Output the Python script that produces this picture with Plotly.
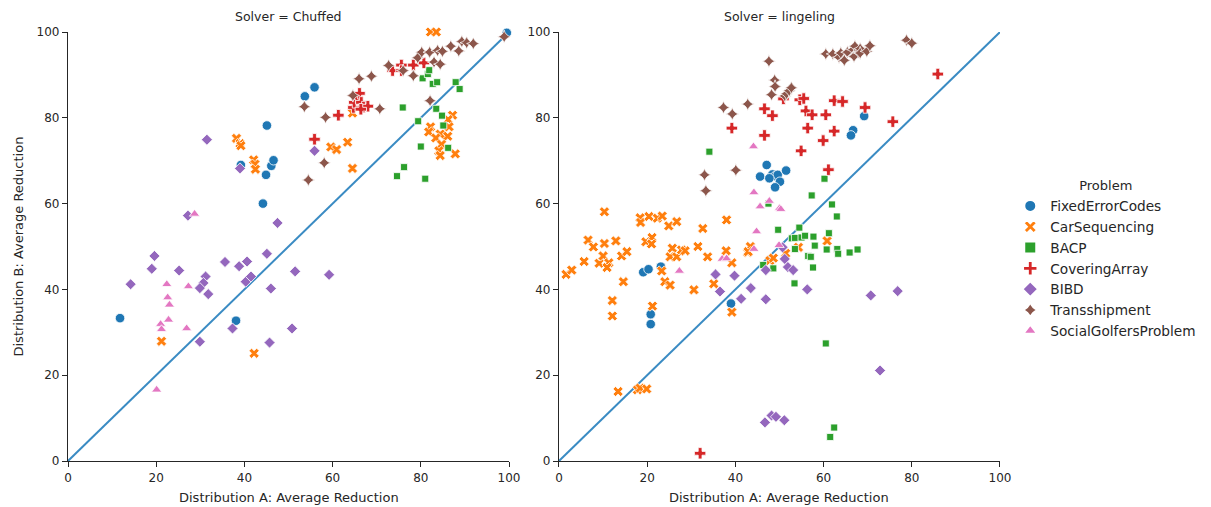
import plotly.graph_objects as go

PROBLEMS = ["FixedErrorCodes", "CarSequencing", "BACP", "CoveringArray", "BIBD", "Transshipment", "SocialGolfersProblem"]
SOLVERS = ["Chuffed", "lingeling"]
COLORS = ["#1f77b4", "#ff7f0e", "#2ca02c", "#d62728", "#9467bd", "#8c564b", "#e377c2"]
SYMBOLS = ["circle", "x", "square", "cross", "diamond", "star-diamond", "triangle-up"]
SIZES = [9.5, 9, 7, 9.5, 8.5, 9.5, 9]
TICKS = [0, 20, 40, 60, 80, 100]
DIAG = [0, 100]

# ---- Chuffed ----
ch_fec_a = [11.8, 38.1, 39.2, 44.2, 44.9, 46.1, 46.6, 45.1, 53.7, 55.9, 99.5]
ch_fec_b = [33.3, 32.7, 69.0, 60.0, 66.7, 68.8, 70.1, 78.2, 85.0, 87.1, 99.8]
ch_car_a = [38.2, 39.0, 39.2, 42.1, 42.4, 42.5, 82.2, 83.5, 64.5, 59.6, 60.9, 63.4, 64.5,
            87.2, 86.2, 82.2, 86.4, 81.8, 84.4, 83.4, 86.1, 84.7, 84.1, 84.4, 87.8, 21.2, 42.2]
ch_car_b = [75.2, 74.0, 73.5, 70.2, 69.2, 68.0, 100.0, 100.0, 81.1, 73.2, 72.6, 74.3, 68.2,
            80.6, 79.6, 77.9, 77.9, 76.7, 76.2, 75.3, 75.7, 73.8, 72.3, 71.2, 71.6, 27.9, 25.1]
ch_bacp_a = [74.6, 76.2, 81.0, 80.0, 86.2, 75.9, 83.5, 84.8, 79.4, 85.1, 82.7, 83.7, 87.9, 88.8, 80.4, 81.6, 81.9]
ch_bacp_b = [66.4, 68.5, 65.8, 73.3, 73.0, 82.4, 82.1, 80.5, 79.2, 78.2, 87.9, 88.3, 88.3, 86.7, 89.2, 90.2, 91.1]
ch_cov_a = [55.9, 61.3, 64.7, 64.9, 65.6, 66.1, 66.5, 67.0, 68.0, 66.4, 73.6, 75.6, 75.6, 78.3, 80.7]
ch_cov_b = [75.0, 80.6, 82.4, 83.6, 84.7, 85.7, 83.6, 82.5, 82.7, 82.0, 91.0, 92.3, 91.0, 92.3, 92.8]
ch_bibd_a = [31.5, 39.0, 27.2, 47.5, 19.6, 19.0, 14.2, 25.2, 35.6, 38.8, 40.6, 45.1, 31.2, 30.7, 29.9,
             31.8, 40.3, 41.5, 46.0, 37.3, 29.9, 45.7, 50.8, 51.5, 59.2, 55.9]
ch_bibd_b = [74.9, 68.2, 57.2, 55.5, 47.8, 44.8, 41.2, 44.4, 46.4, 45.4, 46.5, 48.3, 43.0, 41.5, 40.3,
             38.9, 41.8, 43.0, 40.2, 30.9, 27.8, 27.6, 30.9, 44.2, 43.4, 72.3]
ch_tra_a = [54.5, 58.1, 58.4, 53.6, 70.7, 64.6, 66.0, 68.8, 72.7, 76.0, 78.3, 79.3, 80.2, 82.0, 83.8, 84.9,
            86.8, 88.6, 89.3, 90.4, 91.9, 83.0, 84.4, 82.1, 98.9]
ch_tra_b = [65.5, 69.5, 80.1, 82.6, 82.1, 85.2, 89.1, 89.7, 92.2, 91.0, 89.8, 94.0, 95.3, 95.3, 95.7, 95.5,
            96.7, 95.6, 97.8, 97.5, 97.3, 93.0, 92.5, 84.0, 98.9]
ch_sgp_a = [28.7, 22.4, 22.6, 23.0, 27.3, 22.8, 21.0, 21.2, 26.9, 20.1]
ch_sgp_b = [57.6, 41.2, 38.1, 36.4, 40.7, 32.9, 31.9, 30.7, 30.9, 16.6]

# ---- lingeling ----
li_fec_a = [19.1, 20.3, 23.1, 20.8, 20.8, 39.0, 47.1, 45.6, 48.4, 49.0, 49.6, 51.5, 47.7, 50.1, 49.0, 69.2, 66.7, 66.2]
li_fec_b = [44.0, 44.7, 45.3, 34.2, 31.9, 36.7, 69.0, 66.3, 66.8, 66.4, 66.7, 67.7, 65.9, 65.1, 63.8, 80.4, 77.1, 75.9]
li_car_a = [10.3, 18.4, 18.5, 20.4, 22.3, 23.4, 24.9, 26.7, 32.6, 38.0, 6.6, 12.9, 10.3, 19.7, 21.1,
            1.6, 2.9, 5.7, 7.8, 9.1, 10.0, 11.3, 10.9, 14.2, 15.4, 14.6, 12.1, 12.1, 21.0, 21.2,
            25.7, 25.2, 26.7, 27.8, 28.6, 23.3, 24.0, 25.2, 31.5, 33.7, 30.6, 35.1, 37.9, 39.2, 39.2,
            42.8, 43.4, 47.8, 13.4, 17.8, 18.4, 19.9, 60.8, 42.9, 48.6, 51.4, 54.3]
li_car_b = [58.1, 56.7, 55.6, 57.0, 56.6, 57.1, 54.8, 55.8, 54.2, 56.2, 51.5, 51.3, 50.7, 51.1, 52.1,
            43.5, 44.5, 46.5, 49.9, 46.1, 47.8, 46.2, 45.1, 47.8, 48.8, 41.8, 37.4, 33.8, 50.6, 36.1,
            49.6, 47.6, 47.6, 49.2, 49.0, 44.3, 41.8, 41.0, 50.0, 47.6, 39.9, 41.3, 49.0, 46.2, 34.7,
            48.6, 50.0, 46.7, 16.2, 16.6, 17.0, 16.8, 51.3, 48.8, 47.3, 48.4, 49.8]
li_bacp_a = [34.1, 47.5, 60.2, 57.3, 61.9, 63.0, 49.7, 54.5, 52.8, 53.5, 55.0, 55.8, 57.7, 61.2, 58.0,
             53.5, 60.7, 63.1, 63.3, 65.9, 67.7, 56.5, 57.1, 57.6, 48.6, 46.3, 53.4, 60.5, 62.4, 61.5]
li_bacp_b = [72.1, 60.0, 65.8, 61.9, 59.8, 57.0, 53.9, 54.4, 51.9, 52.0, 52.1, 52.5, 52.3, 53.1, 50.2,
             49.4, 49.3, 49.4, 48.3, 48.6, 49.3, 47.8, 47.6, 45.1, 44.9, 45.7, 41.4, 27.4, 7.8, 5.6]
li_cov_a = [39.2, 46.6, 48.4, 46.6, 50.9, 54.6, 55.5, 56.0, 57.4, 56.4, 60.5, 54.9, 59.9, 62.4, 64.3,
            62.4, 61.1, 85.9, 75.7, 69.4, 32.0]
li_cov_b = [77.6, 82.1, 80.5, 75.9, 84.4, 84.2, 84.5, 81.6, 80.7, 77.6, 80.7, 72.3, 74.7, 84.0, 83.8,
            76.9, 67.9, 90.2, 79.1, 82.4, 1.8]
li_bibd_a = [35.5, 36.5, 39.8, 41.3, 43.5, 46.9, 46.9, 46.7, 48.2, 49.2, 51.1, 50.7, 51.2, 51.9, 53.1,
             56.3, 70.7, 76.8, 72.8]
li_bibd_b = [43.5, 39.5, 43.2, 37.8, 40.3, 37.7, 44.5, 9.0, 10.6, 10.3, 9.5, 49.8, 47.1, 45.2, 44.5,
             40.0, 38.6, 39.6, 21.1]
li_tra_a = [33.0, 33.3, 40.1, 37.3, 39.3, 42.8, 47.6, 48.9, 49.0, 48.2, 51.2, 51.6, 52.2, 52.7, 60.5,
            62.1, 63.5, 63.9, 64.7, 65.4, 66.7, 66.9, 67.9, 67.1, 68.3, 68.3, 69.8, 70.5, 78.8, 80.0]
li_tra_b = [66.7, 63.0, 67.8, 82.4, 80.9, 83.2, 93.2, 88.8, 87.3, 85.4, 85.1, 85.6, 86.3, 87.0, 94.9,
            94.9, 94.1, 95.1, 93.4, 95.3, 95.9, 94.3, 95.3, 96.7, 96.1, 95.1, 95.5, 96.8, 98.1, 97.4]
li_sgp_a = [44.1, 44.2, 47.7, 45.6, 44.8, 50.0, 50.3, 49.9, 44.2, 27.3, 37.0, 38.0]
li_sgp_b = [73.3, 62.6, 60.6, 59.3, 53.5, 58.9, 58.7, 50.3, 49.4, 44.3, 47.1, 47.2]

DATA = {
    "Chuffed": [(ch_fec_a, ch_fec_b), (ch_car_a, ch_car_b), (ch_bacp_a, ch_bacp_b), (ch_cov_a, ch_cov_b),
                (ch_bibd_a, ch_bibd_b), (ch_tra_a, ch_tra_b), (ch_sgp_a, ch_sgp_b)],
    "lingeling": [(li_fec_a, li_fec_b), (li_car_a, li_car_b), (li_bacp_a, li_bacp_b), (li_cov_a, li_cov_b),
                  (li_bibd_a, li_bibd_b), (li_tra_a, li_tra_b), (li_sgp_a, li_sgp_b)],
}

FONT = "DejaVu Sans"
TXT = "#262626"

fig = go.Figure()
axes = [("x", "y"), ("x2", "y2")]
for si, solver in enumerate(SOLVERS):
    xa, ya = axes[si]
    fig.add_trace(go.Scatter(x=DIAG, y=DIAG, mode="lines", xaxis=xa, yaxis=ya,
                             line=dict(color="#3a8bc3", width=2), showlegend=False, hoverinfo="skip"))
    for pi, prob in enumerate(PROBLEMS):
        a, b = DATA[solver][pi]
        fig.add_trace(go.Scatter(
            x=a, y=b, mode="markers", xaxis=xa, yaxis=ya, name=prob,
            legendgroup=prob, showlegend=(si == 0), cliponaxis=False,
            marker=dict(symbol=SYMBOLS[pi], color=COLORS[pi], size=SIZES[pi],
                        line=dict(color="white", width=0.8))))

axis_common = dict(range=[0, 100], tickvals=TICKS, showgrid=False, zeroline=False,
                   showline=True, linecolor=TXT, linewidth=1.2, ticks="outside", ticklen=5,
                   tickwidth=1.2, tickcolor=TXT, tickfont=dict(family=FONT, size=12, color=TXT))

fig.update_layout(
    width=1211, height=507,
    margin=dict(l=68, r=211, t=32, b=46, autoexpand=False),
    plot_bgcolor="white", paper_bgcolor="white",
    font=dict(family=FONT, color=TXT, size=12),
    xaxis=dict(domain=[0, 0.4732], anchor="y", **axis_common),
    yaxis=dict(domain=[0, 1], anchor="x", **axis_common),
    xaxis2=dict(domain=[0.5268, 1], anchor="y2", **axis_common),
    yaxis2=dict(domain=[0, 1], anchor="x2", **axis_common),
    legend=dict(x=1.011, y=0.67, xanchor="left", yanchor="top",
                title=dict(text="Problem", side="top center", font=dict(family=FONT, size=13, color=TXT)),
                font=dict(family=FONT, size=13.7, color=TXT), itemsizing="constant",
                tracegroupgap=0, bgcolor="rgba(0,0,0,0)"),
    annotations=[
        dict(text="Solver = Chuffed", x=0.2366, y=1.0, xref="paper", yref="paper", xanchor="center",
             yanchor="bottom", yshift=6, showarrow=False, font=dict(family=FONT, size=12.5, color=TXT)),
        dict(text="Solver = lingeling", x=0.7634, y=1.0, xref="paper", yref="paper", xanchor="center",
             yanchor="bottom", yshift=6, showarrow=False, font=dict(family=FONT, size=12.5, color=TXT)),
        dict(text="Distribution A: Average Reduction", x=0.2366, y=0, xref="paper", yref="paper",
             xanchor="center", yanchor="middle", yshift=-36, showarrow=False,
             font=dict(family=FONT, size=13, color=TXT)),
        dict(text="Distribution A: Average Reduction", x=0.7634, y=0, xref="paper", yref="paper",
             xanchor="center", yanchor="middle", yshift=-36, showarrow=False,
             font=dict(family=FONT, size=13, color=TXT)),
        dict(text="Distribution B: Average Reduction", x=0, y=0.5, xref="paper", yref="paper",
             xanchor="center", yanchor="middle", xshift=-50, textangle=-90, showarrow=False,
             font=dict(family=FONT, size=13, color=TXT)),
    ],
)

fig.write_html("out.html")
